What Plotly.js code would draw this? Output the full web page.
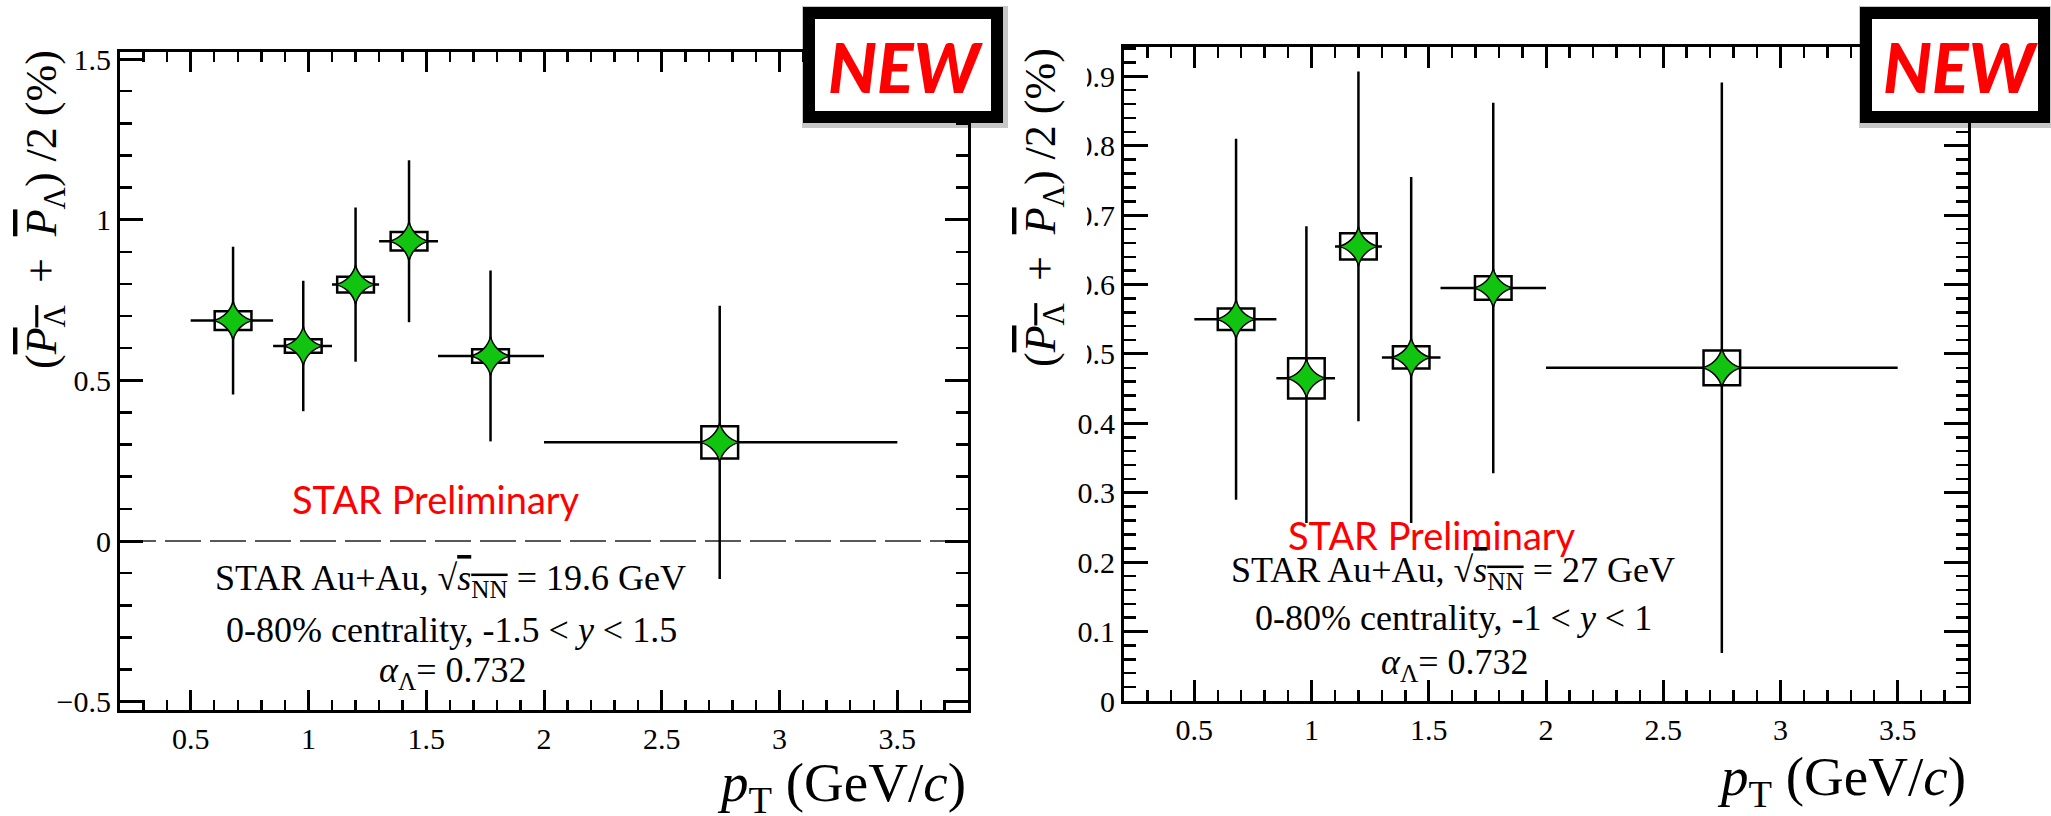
<!DOCTYPE html>
<html><head><meta charset="utf-8">
<script src="https://cdn.plot.ly/plotly-3.0.1.min.js"></script>
<style>html,body{margin:0;padding:0;background:#fff;}#chart{width:2051px;height:816px;}</style>
</head><body><div id="chart"></div>
<script>
// ---- data ----
const binLo = [0.5, 0.85, 1.1, 1.3, 1.55, 2.0];
const binHi = [0.85, 1.1, 1.3, 1.55, 2.0, 3.5];

const pt196   = [0.680, 0.978, 1.200, 1.427, 1.773, 2.746];
const pol196  = [0.686, 0.607, 0.798, 0.933, 0.576, 0.307];
const stat196 = [0.230, 0.203, 0.240, 0.252, 0.266, 0.425];
const sys196  = [0.029, 0.021, 0.0245, 0.0285, 0.021, 0.050];

const pt27    = [0.678, 0.978, 1.200, 1.425, 1.775, 2.750];
const pol27   = [0.550, 0.465, 0.655, 0.495, 0.595, 0.480];
const stat27  = [0.260, 0.219, 0.252, 0.260, 0.267, 0.411];
const sys27   = [0.0155, 0.029, 0.019, 0.016, 0.017, 0.025];

const OL = s => "<span style='text-decoration:overline'>" + s + "</span>";
const xTitle = "<i>p</i><sub>T</sub> (GeV/<i>c</i>)";
const yTitle = "(" + OL("<i>P</i>") + "<sub>" + OL("Λ") + "</sub>&nbsp; +&nbsp; " + OL("<i>P</i>") +
               "<sub>Λ</sub>)&nbsp;/2 (%)";
const info196 = ["STAR Au+Au, √" + OL("<i>s</i><sub>NN</sub>") + " = 19.6 GeV",
                 "0-80% centrality, -1.5 &lt; <i>y</i> &lt; 1.5",
                 "<i>α</i><sub>Λ</sub>= 0.732"];
const info27  = ["STAR Au+Au, √" + OL("<i>s</i><sub>NN</sub>") + " = 27 GeV",
                 "0-80% centrality, -1 &lt; <i>y</i> &lt; 1",
                 "<i>α</i><sub>Λ</sub>= 0.732"];
const prelimText = "STAR Preliminary";
const newText = "NEW";

// ---- layout helpers ----
const W = 2051, H = 816;
const PX = p => p / W;
const PY = p => 1 - p / H;
const GREEN = "#10c410";
const SERIF = "Liberation Serif";
const SANS = "Lato";
const BOXHALF = 0.078;
const TICKFONT = {family: "Liberation Serif", size: 30, color: "black"};

function trace(pt, pol, stat, xa, ya) {
  return {
    type: "scatter", mode: "markers", x: pt, y: pol, xaxis: xa, yaxis: ya,
    marker: {symbol: "star-diamond", size: 28, color: GREEN, line: {color: "black", width: 1.5}},
    error_y: {type: "data", array: stat, visible: true, color: "black", thickness: 2.5, width: 0},
    error_x: {type: "data", symmetric: false,
              array: pt.map((v, i) => binHi[i] - v),
              arrayminus: pt.map((v, i) => v - binLo[i]),
              visible: true, color: "black", thickness: 2.5, width: 0},
    hoverinfo: "skip", cliponaxis: false
  };
}

function sysBoxes(pt, pol, sys, xr, yr) {
  return pt.map((v, i) => ({
    type: "rect", xref: xr, yref: yr, layer: "below",
    x0: v - BOXHALF, x1: v + BOXHALF, y0: pol[i] - sys[i], y1: pol[i] + sys[i],
    line: {color: "black", width: 2.5}, fillcolor: "rgba(0,0,0,0)"
  }));
}

function axisBase(extra) {
  const a = {
    showgrid: false, zeroline: false, showline: true, linecolor: "black", linewidth: 3,
    mirror: "allticks", ticks: "inside", tickcolor: "black", tickwidth: 3,
    showticklabels: true, fixedrange: true,
    tickfont: {family: TICKFONT.family, size: TICKFONT.size, color: TICKFONT.color}
  };
  return Object.assign(a, extra);
}

const data = [trace(pt196, pol196, stat196, "x", "y"), trace(pt27, pol27, stat27, "x2", "y2")];

const shapes = [].concat(
  sysBoxes(pt196, pol196, sys196, "x", "y"),
  sysBoxes(pt27, pol27, sys27, "x2", "y2"),
  [
    {type: "line", xref: "x domain", yref: "y", x0: 0, x1: 1, y0: 0, y1: 0, layer: "below",
     line: {color: "#222", width: 1.6, dash: "36px,9px"}},
    {type: "rect", xref: "paper", yref: "paper", layer: "above",
     x0: PX(1283), x1: PX(1582), y0: PY(562), y1: PY(523), fillcolor: "white", line: {width: 0}},
    {type: "rect", xref: "paper", yref: "paper", layer: "above",
     x0: PX(1006), x1: PX(1087), y0: PY(392), y1: PY(38), fillcolor: "white", line: {width: 0}},
    {type: "rect", xref: "paper", yref: "paper", layer: "above",
     x0: PX(811), x1: PX(999), y0: PY(119), y1: PY(15), fillcolor: "rgba(0,0,0,0)",
     line: {color: "rgba(0,0,0,0.22)", width: 18}},
    {type: "rect", xref: "paper", yref: "paper", layer: "above",
     x0: PX(809), x1: PX(997), y0: PY(117), y1: PY(13), fillcolor: "white",
     line: {color: "black", width: 12}},
    {type: "rect", xref: "paper", yref: "paper", layer: "above",
     x0: PX(1868), x1: PX(2047), y0: PY(119), y1: PY(15), fillcolor: "rgba(0,0,0,0)",
     line: {color: "rgba(0,0,0,0.22)", width: 18}},
    {type: "rect", xref: "paper", yref: "paper", layer: "above",
     x0: PX(1866), x1: PX(2044), y0: PY(117), y1: PY(13), fillcolor: "white",
     line: {color: "black", width: 12}}
  ]
);

function ann(text, x, y, size, opts) {
  return Object.assign({
    text: text, xref: "paper", yref: "paper", x: PX(x), y: PY(y),
    xanchor: "center", yanchor: "middle", showarrow: false,
    font: {family: SERIF, size: size, color: "black"}
  }, opts || {});
}

const annotations = [
  ann(yTitle, 45, 210, 44, {textangle: -90}),
  ann(xTitle, 968, 786, 55, {xanchor: "right"}),
  ann(prelimText, 436, 499, 38, {font: {family: SANS, size: 38, color: "#ff0000"}}),
  ann(info196[0], 450, 580, 36),
  ann(info196[1], 451, 630, 36),
  ann(info196[2], 452, 672, 36),
  ann(newText, 905, 66, 68, {font: {family: SANS, size: 68, color: "#ff0000", weight: 900, style: "italic"}}),

  ann(yTitle, 1043, 208, 44, {textangle: -90}),
  ann(xTitle, 1968, 780, 55, {xanchor: "right"}),
  ann(prelimText, 1432, 535, 38, {font: {family: SANS, size: 38, color: "#ff0000"}}),
  ann(info27[0], 1453, 572, 36),
  ann(info27[1], 1453, 618, 36),
  ann(info27[2], 1454, 664, 36),
  ann(newText, 1960, 66, 68, {font: {family: SANS, size: 68, color: "#ff0000", weight: 900, style: "italic"}})
];

const layout = {
  width: W, height: H, margin: {l: 0, r: 0, t: 0, b: 0},
  font: {family: "Liberation Serif", size: 30, color: "black"},
  paper_bgcolor: "white", plot_bgcolor: "white", showlegend: false,
  xaxis: axisBase({domain: [PX(120), PX(968)], range: [0.2, 3.8], dtick: 0.5, tick0: 0, ticklen: 20,
                   minor: {dtick: 0.1, tick0: 0, ticks: "inside", ticklen: 10, tickwidth: 2.5, tickcolor: "black"},
                   anchor: "y"}),
  yaxis: axisBase({domain: [PY(710), PY(52)], range: [-0.526, 1.522], dtick: 0.5, tick0: 0, ticklen: 23,
                   minor: {dtick: 0.1, tick0: 0, ticks: "inside", ticklen: 12, tickwidth: 2.5, tickcolor: "black"},
                   anchor: "x"}),
  xaxis2: axisBase({domain: [PX(1124), PX(1968)], range: [0.2, 3.8], dtick: 0.5, tick0: 0, ticklen: 21,
                    minor: {dtick: 0.1, tick0: 0, ticks: "inside", ticklen: 11, tickwidth: 2.5, tickcolor: "black"},
                    anchor: "y2"}),
  yaxis2: axisBase({domain: [PY(701), PY(46.5)], range: [0, 0.943], dtick: 0.1, tick0: 0, ticklen: 24,
                    minor: {dtick: 0.02, tick0: 0, ticks: "inside", ticklen: 12, tickwidth: 2.5, tickcolor: "black"},
                    anchor: "x2"}),
  shapes: shapes,
  annotations: annotations
};

Plotly.newPlot("chart", data, layout, {staticPlot: true, displayModeBar: false});
</script></body></html>
